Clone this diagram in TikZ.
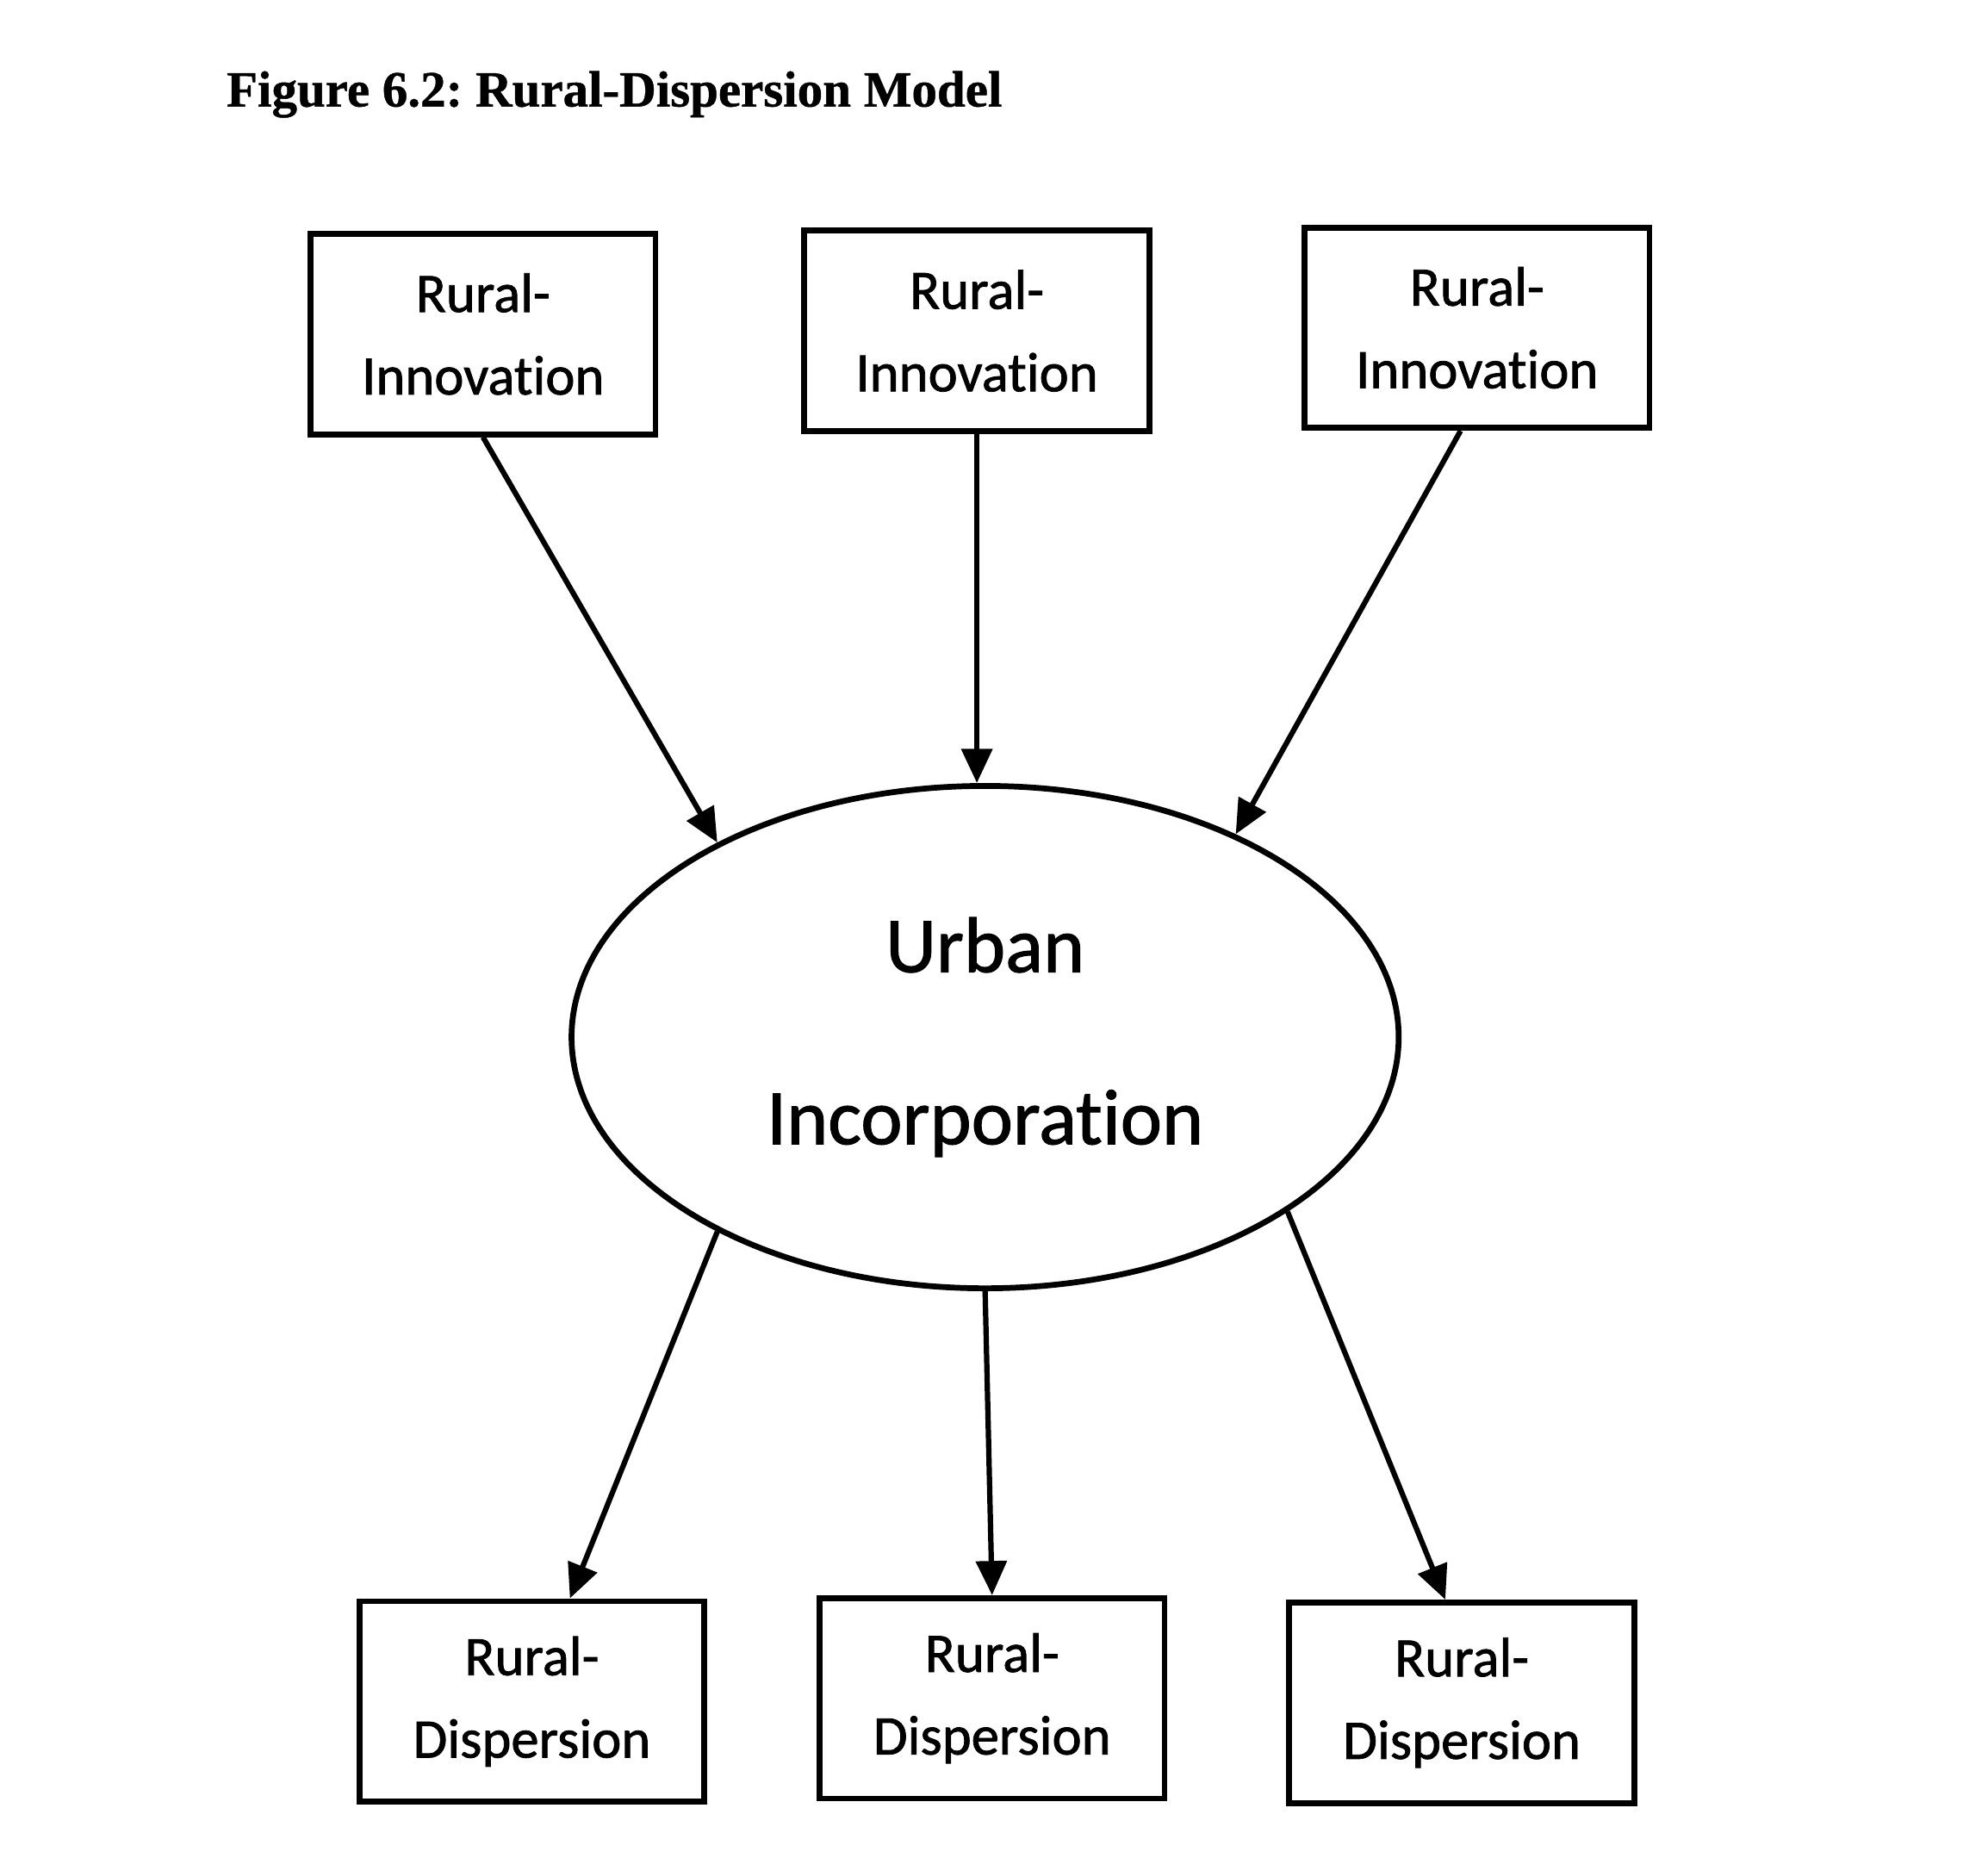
\documentclass[tikz,border=0pt]{standalone}
\usepackage{fontspec}
\setmainfont{Carlito}[Ligatures=NoCommon, FakeBold=1.2]
\newfontfamily\titlefont{Liberation Serif}[FakeBold=0.8]
\usetikzlibrary{shapes.geometric, arrows.meta, positioning}
\tikzset{
  ruralbox/.style={draw, line width=1.3pt, minimum width=2.72cm, minimum height=1.58cm, align=center, font=\fontsize{12.5}{18.5}\selectfont},
  hub/.style={draw, ellipse, line width=1.3pt, minimum width=6.52cm, minimum height=3.96cm, align=center, font=\fontsize{17.7}{38.6}\selectfont},
  flow/.style={-{Triangle[length=2.7mm, width=2.4mm]}, line width=1.2pt}
}

\begin{document}
\begin{tikzpicture}[x=0.01cm, y=-0.01cm]
  \useasboundingbox (0,0) rectangle (1568,1470);

  \node[anchor=base west, inner sep=0pt, font=\titlefont\bfseries\frenchspacing\fontsize{11.4}{13}\selectfont] (title) at (178,84) {Figure 6.2: Rural-Dispersion Model};

  % innovation sources
  \node[ruralbox] (in1) at (381,263.5) {Rural-\\Innovation};
  \node[ruralbox] (in2) at (770.5,261) {Rural-\\Innovation};
  \node[ruralbox] (in3) at (1165,258.5) {Rural-\\Innovation};

  \node[hub] (urban) at (777,818) {Urban\\Incorporation};

  % dispersion outlets
  \node[ruralbox] (out1) at (419.5,1342) {Rural-\\Dispersion};
  \node[ruralbox] (out2) at (782.5,1339.5) {Rural-\\Dispersion};
  \node[ruralbox] (out3) at (1153,1343) {Rural-\\Dispersion};

  \draw[flow] (in1.south) -- (urban.144);
  \draw[flow] (in2.south) -- (in2.south |- urban.north);
  \draw[flow] ([xshift=-0.13cm]in3.south) -- (urban.39);
  \draw[flow] (urban.216) -- ([xshift=0.3cm]out1.north);
  \draw[flow] (urban.south) -- (out2.north);
  \draw[flow] (urban.330) -- ([xshift=-0.13cm]out3.north);
\end{tikzpicture}
\end{document}
